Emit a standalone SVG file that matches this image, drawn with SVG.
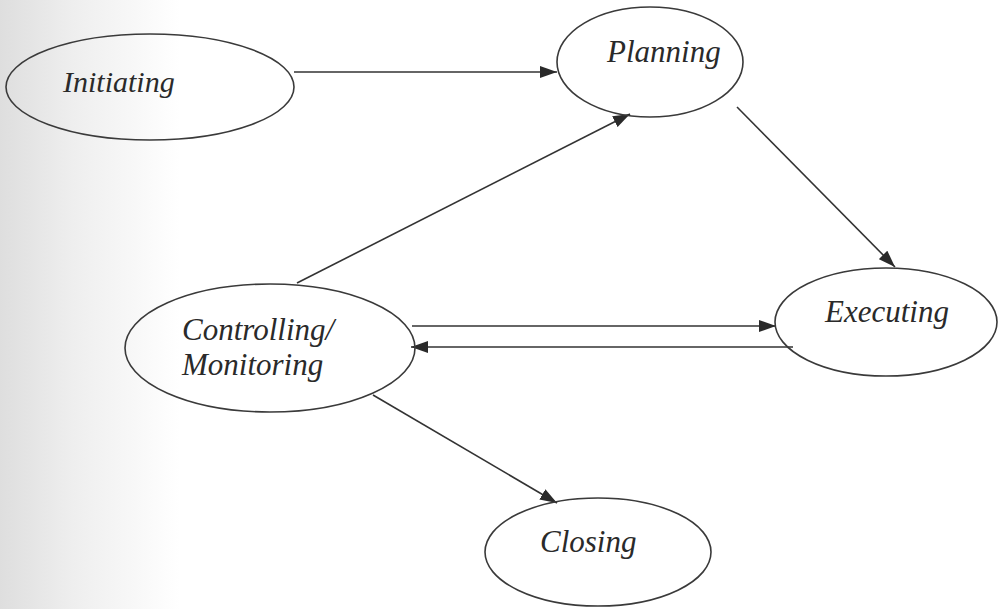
<svg xmlns="http://www.w3.org/2000/svg" width="998" height="609" viewBox="0 0 998 609">
<defs>
<linearGradient id="scan" x1="0" y1="0" x2="1" y2="0">
<stop offset="0" stop-color="#dedede"/>
<stop offset="0.4" stop-color="#eeeeee"/>
<stop offset="1" stop-color="#ffffff"/>
</linearGradient>
<marker id="arr" viewBox="0 0 17 12" refX="17" refY="6" markerWidth="17" markerHeight="12" markerUnits="userSpaceOnUse" orient="auto">
<path d="M0,0 L17,6 L0,12 Z" fill="#2a2a2a"/>
</marker>
</defs>
<style>
.node ellipse{fill:none;stroke:#3a3a3a;stroke-width:1.6}
.lbl{font-family:'Liberation Serif','Times New Roman',serif;font-style:italic;font-size:31px;fill:#2a2a2a}
#connectors line{stroke:#333;stroke-width:1.6;marker-end:url(#arr)}
</style>
<rect x="0" y="0" width="998" height="609" fill="#ffffff"/>
<rect x="0" y="0" width="180" height="609" fill="url(#scan)"/>
<g id="connectors">
<line x1="294" y1="72" x2="557" y2="72"/>
<line x1="297" y1="283" x2="630" y2="114"/>
<line x1="737" y1="107" x2="895" y2="267"/>
<line x1="412" y1="326" x2="776" y2="326"/>
<line x1="793" y1="347" x2="411" y2="347"/>
<line x1="373" y1="395" x2="557" y2="503"/>
</g>
<g id="initiating" class="node">
<ellipse cx="150" cy="87" rx="144" ry="53"/>
<text class="lbl" x="63" y="92" style="font-size:30px">Initiating</text>
</g>
<g id="planning" class="node">
<ellipse cx="650" cy="62" rx="93" ry="55"/>
<text class="lbl" x="607" y="62">Planning</text>
</g>
<g id="executing" class="node">
<ellipse cx="886" cy="322" rx="111" ry="54"/>
<text class="lbl" x="825" y="322">Executing</text>
</g>
<g id="controlling" class="node">
<ellipse cx="270" cy="348" rx="145" ry="64"/>
<text class="lbl" x="182" y="340">Controlling/</text>
<text class="lbl" x="182" y="375">Monitoring</text>
</g>
<g id="closing" class="node">
<ellipse cx="598" cy="552" rx="113" ry="54"/>
<text class="lbl" x="540" y="552">Closing</text>
</g>
</svg>
